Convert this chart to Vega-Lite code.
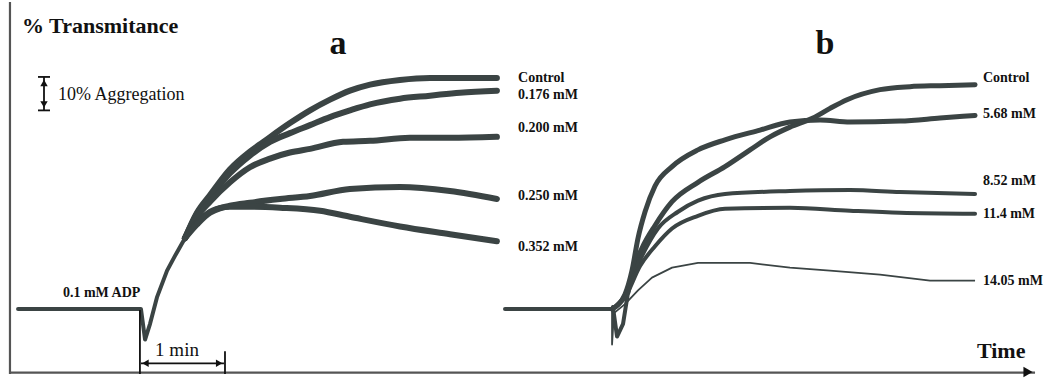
{
  "$schema": "https://vega.github.io/schema/vega-lite/v6.json",
  "width": 1050,
  "height": 378,
  "autosize": {"type": "fit", "contains": "padding"},
  "padding": 0,
  "background": "#ffffff",
  "config": {"view": {"stroke": null}},
  "datasets": {
    "traces": [
      {"s":"a_base","t":-81.1,"T":0},{"s":"a_base","t":2.7,"T":0},{"s":"a_base","t":5.5,"T":-9.1},{"s":"a_base","t":8.9,"T":-4.4},{"s":"a_base","t":13.6,"T":3.5},{"s":"a_base","t":20.5,"T":11.5},{"s":"a_base","t":25.9,"T":15.9},{"s":"a_base","t":32.7,"T":21.2},
      {"s":"a_ctrl","t":32.7,"T":21.2},{"s":"a_ctrl","t":40.9,"T":28.8},{"s":"a_ctrl","t":49.8,"T":34.1},{"s":"a_ctrl","t":63.4,"T":41.8},{"s":"a_ctrl","t":77.0,"T":47.1},{"s":"a_ctrl","t":85.9,"T":49.9},{"s":"a_ctrl","t":104.3,"T":55.6},{"s":"a_ctrl","t":118.0,"T":59.4},{"s":"a_ctrl","t":131.6,"T":62.6},{"s":"a_ctrl","t":145.2,"T":65.3},{"s":"a_ctrl","t":158.9,"T":67.1},{"s":"a_ctrl","t":179.3,"T":68.5},{"s":"a_ctrl","t":199.8,"T":69.1},{"s":"a_ctrl","t":245.4,"T":69.1},
      {"s":"a_176","t":32.7,"T":21.2},{"s":"a_176","t":40.9,"T":28.5},{"s":"a_176","t":49.8,"T":33.5},{"s":"a_176","t":63.4,"T":40.6},{"s":"a_176","t":77.0,"T":45.9},{"s":"a_176","t":90.7,"T":50.0},{"s":"a_176","t":104.3,"T":52.6},{"s":"a_176","t":118.0,"T":55.0},{"s":"a_176","t":131.6,"T":57.4},{"s":"a_176","t":145.2,"T":59.4},{"s":"a_176","t":158.9,"T":61.2},{"s":"a_176","t":179.3,"T":62.9},{"s":"a_176","t":199.8,"T":63.8},{"s":"a_176","t":220.2,"T":64.7},{"s":"a_176","t":245.4,"T":65.3},
      {"s":"a_200","t":32.7,"T":21.2},{"s":"a_200","t":40.9,"T":27.6},{"s":"a_200","t":49.8,"T":32.1},{"s":"a_200","t":63.4,"T":37.9},{"s":"a_200","t":77.0,"T":42.4},{"s":"a_200","t":90.7,"T":45.0},{"s":"a_200","t":104.3,"T":46.8},{"s":"a_200","t":118.0,"T":47.9},{"s":"a_200","t":140.5,"T":50.0},{"s":"a_200","t":158.9,"T":50.3},{"s":"a_200","t":186.1,"T":51.2},{"s":"a_200","t":213.4,"T":51.2},{"s":"a_200","t":245.4,"T":51.5},
      {"s":"a_250","t":32.7,"T":21.2},{"s":"a_250","t":40.9,"T":25.9},{"s":"a_250","t":49.8,"T":29.1},{"s":"a_250","t":63.4,"T":30.9},{"s":"a_250","t":77.0,"T":31.8},{"s":"a_250","t":97.5,"T":32.9},{"s":"a_250","t":118.0,"T":33.8},{"s":"a_250","t":145.2,"T":35.9},{"s":"a_250","t":179.3,"T":36.5},{"s":"a_250","t":213.4,"T":35.3},{"s":"a_250","t":245.4,"T":32.9},
      {"s":"a_352","t":32.7,"T":21.2},{"s":"a_352","t":40.9,"T":25.3},{"s":"a_352","t":49.8,"T":28.8},{"s":"a_352","t":63.4,"T":30.6},{"s":"a_352","t":77.0,"T":30.6},{"s":"a_352","t":97.5,"T":30.3},{"s":"a_352","t":124.8,"T":29.4},{"s":"a_352","t":145.2,"T":27.6},{"s":"a_352","t":179.3,"T":24.7},{"s":"a_352","t":213.4,"T":22.4},{"s":"a_352","t":245.4,"T":20.3},
      {"s":"b_base","t":250.9,"T":0},{"s":"b_base","t":323.9,"T":0},
      {"s":"b_dip","t":323.9,"T":0},{"s":"b_dip","t":324.5,"T":0.6},{"s":"b_dip","t":327.3,"T":-8.2},{"s":"b_dip","t":331.4,"T":-4.4},{"s":"b_dip","t":334.8,"T":5.0},
      {"s":"b_ctrl","t":334.8,"T":5.0},{"s":"b_ctrl","t":338.2,"T":11.5},{"s":"b_ctrl","t":344.3,"T":18.2},{"s":"b_ctrl","t":353.2,"T":25.0},{"s":"b_ctrl","t":364.8,"T":32.1},{"s":"b_ctrl","t":382.5,"T":37.9},{"s":"b_ctrl","t":400.9,"T":42.6},{"s":"b_ctrl","t":418.0,"T":47.6},{"s":"b_ctrl","t":431.6,"T":51.5},{"s":"b_ctrl","t":445.2,"T":54.4},{"s":"b_ctrl","t":460.9,"T":57.1},{"s":"b_ctrl","t":472.5,"T":60.0},{"s":"b_ctrl","t":484.1,"T":62.6},{"s":"b_ctrl","t":506.6,"T":65.6},{"s":"b_ctrl","t":527.0,"T":66.5},{"s":"b_ctrl","t":547.5,"T":66.8},{"s":"b_ctrl","t":571.4,"T":67.1},
      {"s":"b_568","t":323.9,"T":0},{"s":"b_568","t":332.7,"T":4.4},{"s":"b_568","t":337.5,"T":11.5},{"s":"b_568","t":341.6,"T":21.2},{"s":"b_568","t":346.4,"T":29.1},{"s":"b_568","t":353.2,"T":36.8},{"s":"b_568","t":364.8,"T":42.6},{"s":"b_568","t":382.5,"T":47.6},{"s":"b_568","t":400.9,"T":50.6},{"s":"b_568","t":424.8,"T":53.5},{"s":"b_568","t":445.2,"T":55.9},{"s":"b_568","t":465.7,"T":56.5},{"s":"b_568","t":486.1,"T":55.9},{"s":"b_568","t":520.2,"T":56.2},{"s":"b_568","t":547.5,"T":57.1},{"s":"b_568","t":571.4,"T":57.9},
      {"s":"b_852","t":323.9,"T":0},{"s":"b_852","t":332.7,"T":4.1},{"s":"b_852","t":343.0,"T":14.7},{"s":"b_852","t":355.2,"T":24.1},{"s":"b_852","t":368.9,"T":29.1},{"s":"b_852","t":382.5,"T":32.4},{"s":"b_852","t":400.9,"T":34.4},{"s":"b_852","t":445.2,"T":35.3},{"s":"b_852","t":486.1,"T":35.6},{"s":"b_852","t":520.2,"T":35.0},{"s":"b_852","t":571.4,"T":34.4},
      {"s":"b_114","t":323.9,"T":0},{"s":"b_114","t":332.7,"T":3.5},{"s":"b_114","t":343.0,"T":12.9},{"s":"b_114","t":353.2,"T":18.8},{"s":"b_114","t":364.8,"T":24.1},{"s":"b_114","t":382.5,"T":27.9},{"s":"b_114","t":400.9,"T":30.0},{"s":"b_114","t":445.2,"T":30.3},{"s":"b_114","t":486.1,"T":29.4},{"s":"b_114","t":520.2,"T":28.8},{"s":"b_114","t":571.4,"T":28.5},
      {"s":"b_1405","t":323.9,"T":0},{"s":"b_1405","t":323.9,"T":-10.6},{"s":"b_1405","t":325.2,"T":-1.2},{"s":"b_1405","t":332.7,"T":1.5},{"s":"b_1405","t":341.6,"T":5.6},{"s":"b_1405","t":351.1,"T":9.4},{"s":"b_1405","t":364.8,"T":12.4},{"s":"b_1405","t":382.5,"T":13.8},{"s":"b_1405","t":418.0,"T":13.8},{"s":"b_1405","t":445.2,"T":12.4},{"s":"b_1405","t":472.5,"T":11.5},{"s":"b_1405","t":506.6,"T":10.3},{"s":"b_1405","t":540.7,"T":8.5},{"s":"b_1405","t":571.4,"T":8.5}
    ],
    "axes": [
      {"t":-86.6,"T":-19.4,"t2":-86.6,"T2":91.8},
      {"t":-86.6,"T":-19.0,"t2":612.3,"T2":-19.0}
    ],
    "marks": [
      {"t":2.7,"T":-16.2,"t2":59.3,"T2":-16.2},
      {"t":2.0,"T":-0.3,"t2":2.0,"T2":-19.4},
      {"t":60.0,"T":-12.6,"t2":60.0,"T2":-19.4},
      {"t":-63.4,"T":69.4,"t2":-63.4,"T2":59.4},
      {"t":-67.5,"T":69.4,"t2":-59.3,"T2":69.4},
      {"t":-67.5,"T":59.4,"t2":-59.3,"T2":59.4}
    ],
    "heads": [
      {"shape":"triangle-up","t":-63.4,"T":67.6,"g":"small"},
      {"shape":"triangle-down","t":-63.4,"T":61.2,"g":"small"},
      {"shape":"triangle-left","t":5.8,"T":-16.2,"g":"small"},
      {"shape":"triangle-right","t":56.0,"T":-16.2,"g":"small"},
      {"shape":"triangle-right","t":607.5,"T":-18.8,"g":"big"}
    ],
    "labels": [
      {"text":"% Transmitance","t":-78.4,"T":82.4,"k":"title"},
      {"text":"Time","t":572.7,"T":-14.7,"k":"title"},
      {"text":"a","t":137.0,"T":76.2,"k":"panel"},
      {"text":"b","t":469.1,"T":76.2,"k":"panel"},
      {"text":"10% Aggregation","t":-53.9,"T":62.4,"k":"note"},
      {"text":"1 min","t":27.3,"T":-14.1,"k":"min"},
      {"text":"0.1 mM ADP","t":-50.5,"T":4.7,"k":"lab"},
      {"text":"Control","t":259.8,"T":69.1,"k":"lab"},
      {"text":"0.176 mM","t":259.8,"T":64.1,"k":"lab"},
      {"text":"0.200 mM","t":259.8,"T":54.1,"k":"lab"},
      {"text":"0.250 mM","t":259.8,"T":33.8,"k":"lab"},
      {"text":"0.352 mM","t":259.8,"T":18.5,"k":"lab"},
      {"text":"Control","t":576.8,"T":69.1,"k":"lab"},
      {"text":"5.68 mM","t":576.8,"T":58.2,"k":"lab"},
      {"text":"8.52 mM","t":576.8,"T":38.2,"k":"lab"},
      {"text":"11.4 mM","t":576.8,"T":28.5,"k":"lab"},
      {"text":"14.05 mM","t":576.8,"T":8.5,"k":"lab"}
    ]
  },
  "encoding": {
    "x": {"field":"t","type":"quantitative","scale":{"domain":[-93.4,622.5],"nice":false,"zero":false},"axis":null},
    "y": {"field":"T","type":"quantitative","scale":{"domain":[-19.4,91.8],"nice":false,"zero":false},"axis":null}
  },
  "layer": [
    {
      "data":{"name":"traces"},
      "transform":[{"filter":{"field":"s","oneOf":["a_ctrl","a_176","a_200","a_250","a_352"]}}],
      "mark":{"type":"line","stroke":"#3b4444","strokeWidth":6,"strokeJoin":"round","strokeCap":"round","interpolate":"monotone"},
      "encoding":{"detail":{"field":"s"},"order":{"value":null}}
    },
    {
      "data":{"name":"traces"},
      "transform":[{"filter":{"field":"s","oneOf":["a_base","b_base","b_dip"]}}],
      "mark":{"type":"line","stroke":"#3b4444","strokeWidth":4,"strokeJoin":"round","strokeCap":"round"},
      "encoding":{"detail":{"field":"s"},"order":{"value":null}}
    },
    {
      "data":{"name":"traces"},
      "transform":[{"filter":{"field":"s","oneOf":["b_ctrl","b_568"]}}],
      "mark":{"type":"line","stroke":"#3b4444","strokeWidth":5,"strokeJoin":"round","strokeCap":"round","interpolate":"monotone"},
      "encoding":{"detail":{"field":"s"},"order":{"value":null}}
    },
    {
      "data":{"name":"traces"},
      "transform":[{"filter":{"field":"s","oneOf":["b_852","b_114"]}}],
      "mark":{"type":"line","stroke":"#3b4444","strokeWidth":4,"strokeJoin":"round","strokeCap":"round","interpolate":"monotone"},
      "encoding":{"detail":{"field":"s"},"order":{"value":null}}
    },
    {
      "data":{"name":"traces"},
      "transform":[{"filter":{"field":"s","equal":"b_1405"}}],
      "mark":{"type":"line","stroke":"#3b4444","strokeWidth":1.8,"strokeJoin":"round"},
      "encoding":{"detail":{"field":"s"},"order":{"value":null}}
    },
    {
      "data":{"name":"axes"},
      "mark":{"type":"rule","stroke":"#555555","strokeWidth":2.2},
      "encoding":{"x2":{"field":"t2"},"y2":{"field":"T2"}}
    },
    {
      "data":{"name":"marks"},
      "mark":{"type":"rule","stroke":"#111111","strokeWidth":1.8},
      "encoding":{"x2":{"field":"t2"},"y2":{"field":"T2"}}
    },
    {
      "data":{"name":"heads"},
      "transform":[{"filter":{"field":"g","equal":"small"}}],
      "mark":{"type":"point","filled":true,"color":"#111111","size":55,"opacity":1},
      "encoding":{"shape":{"field":"shape","type":"nominal","scale":null}}
    },
    {
      "data":{"name":"heads"},
      "transform":[{"filter":{"field":"g","equal":"big"}}],
      "mark":{"type":"point","filled":true,"color":"#111111","size":110,"opacity":1},
      "encoding":{"shape":{"field":"shape","type":"nominal","scale":null}}
    },
    {
      "data":{"name":"labels"},
      "transform":[{"filter":{"field":"k","equal":"title"}}],
      "mark":{"type":"text","font":"Liberation Serif","fontWeight":"bold","fontSize":22,"align":"left","baseline":"alphabetic","color":"#111111"},
      "encoding":{"text":{"field":"text"}}
    },
    {
      "data":{"name":"labels"},
      "transform":[{"filter":{"field":"k","equal":"panel"}}],
      "mark":{"type":"text","font":"Liberation Serif","fontWeight":"bold","fontSize":34,"align":"center","baseline":"alphabetic","color":"#111111"},
      "encoding":{"text":{"field":"text"}}
    },
    {
      "data":{"name":"labels"},
      "transform":[{"filter":{"field":"k","equal":"note"}}],
      "mark":{"type":"text","font":"Liberation Serif","fontSize":18,"align":"left","baseline":"alphabetic","color":"#111111"},
      "encoding":{"text":{"field":"text"}}
    },
    {
      "data":{"name":"labels"},
      "transform":[{"filter":{"field":"k","equal":"min"}}],
      "mark":{"type":"text","font":"Liberation Serif","fontSize":19,"align":"center","baseline":"alphabetic","color":"#111111"},
      "encoding":{"text":{"field":"text"}}
    },
    {
      "data":{"name":"labels"},
      "transform":[{"filter":{"field":"k","equal":"lab"}}],
      "mark":{"type":"text","font":"Liberation Serif","fontWeight":"bold","fontSize":14,"align":"left","baseline":"middle","color":"#111111"},
      "encoding":{"text":{"field":"text"}}
    }
  ]
}
